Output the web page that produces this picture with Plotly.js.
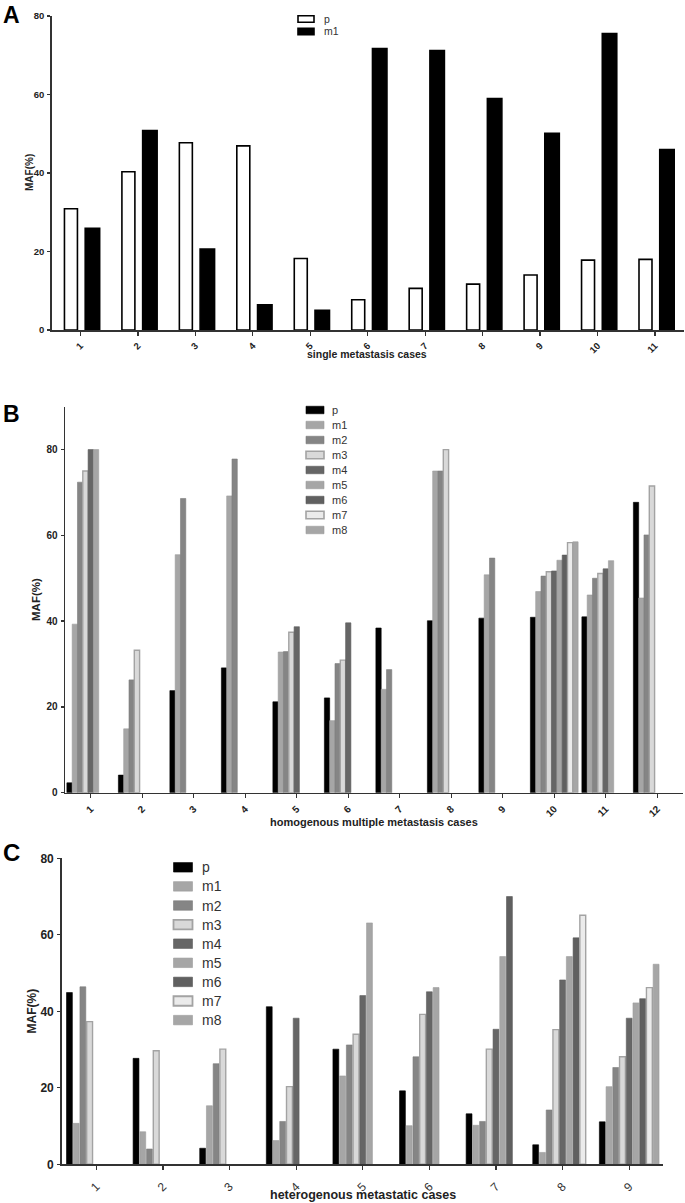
<!DOCTYPE html>
<html>
<head>
<meta charset="utf-8">
<script src="https://cdn.plot.ly/plotly-3.0.1.min.js"></script>
<style>html,body{margin:0;padding:0;background:#fff;}#chart{width:685px;height:1203px;}</style>
</head>
<body>
<div id="chart"></div>
<script>
// ---------------- DATA ----------------
const seriesA = ['p', 'm1'];
const casesA = ['1','2','3','4','5','6','7','8','9','10','11'];
const A_p  = [30.9, 40.3, 47.7, 46.9, 18.2, 7.7, 10.6, 11.7, 14.0, 17.8, 18.0];
const A_m1 = [25.9, 50.8, 20.6, 6.4, 5.0, 71.7, 71.2, 59.0, 50.1, 75.5, 46.0];

const seriesMulti = ['p','m1','m2','m3','m4','m5','m6','m7','m8'];

const casesB = ['1','2','3','4','5','6','7','8','9','10','11','12'];
const B_p  = [2.3, 4.1, 23.8, 29.1, 21.2, 22.1, 38.4, 40.1, 40.7, 40.9, 41.0, 67.7];
const B_m1 = [39.3, 14.9, 55.5, 69.2, 32.8, 16.8, 24.1, 75.0, 50.8, 46.9, 46.1, 45.4];
const B_m2 = [72.4, 26.3, 68.6, 77.8, 32.9, 30.1, 28.7, 75.0, 54.7, 50.5, 50.0, 60.1];
const B_m3 = [75.0, 33.2, null, null, 37.4, 30.9, null, 80.0, null, 51.5, 51.1, 71.5];
const B_m4 = [80.0, null, null, null, 38.7, 39.6, null, null, null, 51.7, 52.2, null];
const B_m5 = [80.0, null, null, null, null, null, null, null, null, 54.2, 54.1, null];
const B_m6 = [null, null, null, null, null, null, null, null, null, 55.4, null, null];
const B_m7 = [null, null, null, null, null, null, null, null, null, 58.3, null, null];
const B_m8 = [null, null, null, null, null, null, null, null, null, 58.5, null, null];

const casesC = ['1','2','3','4','5','6','7','8','9'];
const C_p  = [44.9, 27.7, 4.2, 41.2, 30.1, 19.2, 13.2, 5.1, 11.1];
const C_m1 = [10.7, 8.5, 15.3, 6.2, 23.1, 10.1, 10.2, 3.1, 20.3];
const C_m2 = [46.4, 4.0, 26.3, 11.2, 31.2, 28.1, 11.2, 14.2, 25.3];
const C_m3 = [37.3, 29.7, 30.1, 20.3, 34.0, 39.2, 30.1, 35.2, 28.1];
const C_m4 = [null, null, null, 38.2, 44.1, 45.1, 35.3, 48.2, 38.2];
const C_m5 = [null, null, null, null, 63.1, 46.2, 54.3, 54.3, 42.2];
const C_m6 = [null, null, null, null, null, null, 70.0, 59.2, 43.3];
const C_m7 = [null, null, null, null, null, null, null, 65.1, 46.2];
const C_m8 = [null, null, null, null, null, null, null, null, 52.3];

const yTicks = [0, 20, 40, 60, 80];
const titleA = 'single metastasis cases';
const titleB = 'homogenous multiple metastasis cases';
const titleC = 'heterogenous metastatic cases';
const yTitle = 'MAF(%)';

// ---------------- STYLE ----------------
const W = 685, H = 1203;
const px = x => x / W;
const py = y => 1 - y / H;
const FONT = 'Liberation Sans, Arial, Helvetica, sans-serif';
const AX = '#333333';

const fills = ['#000000','#a6a6a6','#858585','#d9d9d9','#666666','#a6a6a6','#606060','#ebebeb','#a6a6a6'];
const lines = ['#000000','#9c9c9c','#7c7c7c','#a3a3a3','#5e5e5e','#9c9c9c','#585858','#a3a3a3','#9c9c9c'];
const lineW = [0.6, 0.6, 0.6, 1.4, 0.6, 0.6, 0.6, 1.4, 0.6];

const dataB = [B_p, B_m1, B_m2, B_m3, B_m4, B_m5, B_m6, B_m7, B_m8];
const dataC = [C_p, C_m1, C_m2, C_m3, C_m4, C_m5, C_m6, C_m7, C_m8];

const traces = [];
// Panel A
traces.push({type:'bar', name: seriesA[0], x: casesA, y: A_p, xaxis:'x', yaxis:'y',
  offset: -0.278, width: 0.226, showlegend:false, hoverinfo:'skip',
  marker:{color:'#ffffff', line:{color:'#000000', width:1.6}}});
traces.push({type:'bar', name: seriesA[1], x: casesA, y: A_m1, xaxis:'x', yaxis:'y',
  offset: 0.083, width: 0.252, showlegend:false, hoverinfo:'skip',
  marker:{color:'#000000', line:{color:'#000000', width:1.6}}});
// Panel B
const sB = 0.103;
dataB.forEach((vals, k) => {
  traces.push({type:'bar', name: seriesMulti[k], x: casesB, y: vals, xaxis:'x2', yaxis:'y2',
    offset: (k - 4.5) * sB, width: sB, showlegend:false, hoverinfo:'skip',
    marker:{color: fills[k], line:{color: lines[k], width: lineW[k]}}});
});
// Panel C
const sC = 0.101, wC = 0.088;
dataC.forEach((vals, k) => {
  traces.push({type:'bar', name: seriesMulti[k], x: casesC, y: vals, xaxis:'x3', yaxis:'y3',
    offset: (k - 4.5) * sC + (sC - wC) / 2, width: wC, showlegend:false, hoverinfo:'skip',
    marker:{color: fills[k], line:{color: lines[k], width: lineW[k]}}});
});

function xAxis(domain, range, anchor, fontSize, bold, standoff) {
  return {domain: domain, range: range, type:'category', anchor: anchor,
    showline:true, linecolor:AX, linewidth:1.5, ticks:'outside', ticklen:4, tickwidth:1.3, tickcolor:AX,
    showgrid:false, zeroline:false, tickangle:-45, ticklabelstandoff: standoff,
    tickfont:{family: FONT, size: fontSize, color: bold ? '#222' : '#333', weight: bold ? 'bold' : 'normal'},
    fixedrange:true};
}
function yAxis(domain, range, anchor, fontSize) {
  return {domain: domain, range: range, anchor: anchor, tickvals: yTicks, ticktext: yTicks.map(String),
    showline:true, linecolor:AX, linewidth:1.5, ticks:'outside', ticklen:3, tickwidth:1.3, tickcolor:AX,
    showgrid:false, zeroline:false, ticklabelstandoff: 1,
    tickfont:{family: FONT, size: fontSize, color:'#222', weight:'bold'}, fixedrange:true};
}

const shapes = [];
const annotations = [];

function legend(names, x0, x1, yFirst, step, h, textX, fontSize, colorsFill, colorsLine, widths) {
  names.forEach((n, i) => {
    const yc = yFirst + i * step;
    shapes.push({type:'rect', xref:'paper', yref:'paper', x0: px(x0), x1: px(x1),
      y0: py(yc - h/2), y1: py(yc + h/2), fillcolor: colorsFill[i],
      line:{color: colorsLine[i], width: widths[i]}});
    annotations.push({xref:'paper', yref:'paper', x: px(textX), y: py(yc), text: n,
      showarrow:false, xanchor:'left', yanchor:'middle',
      font:{family: FONT, size: fontSize, color:'#333'}});
  });
}
legend(seriesA, 298, 314, 19, 12.5, 6.5, 322, 10.5, ['#ffffff','#000000'], ['#000000','#000000'], [1.6, 1.6]);
legend(seriesMulti, 306, 324, 410, 15, 7.5, 330, 11, fills, lines, lineW.map(w => w > 1 ? 1.6 : 0.6));
legend(seriesMulti, 173.5, 192.5, 867.3, 19.1, 9.5, 200, 14, fills, lines, lineW.map(w => w > 1 ? 1.8 : 0.6));

function txt(x, y, text, size, opts) {
  annotations.push(Object.assign({xref:'paper', yref:'paper', x: px(x), y: py(y), text: text,
    showarrow:false, xanchor:'center', yanchor:'middle',
    font:{family: FONT, size: size, color:'#222', weight:'bold'}}, opts || {}));
}
// panel letters
txt(1, 0, 'A', 22, {xanchor:'left', yanchor:'top', font:{family:'Liberation Sans Narrow, Liberation Sans, Arial', size:23, color:'#000', weight:'bold'}});
txt(1, 414, 'B', 23, {xanchor:'left', font:{family: FONT, size:23, color:'#000', weight:'bold'}});
txt(1, 852, 'C', 24, {xanchor:'left', font:{family: FONT, size:24, color:'#000', weight:'bold'}});
// axis titles
txt(367, 354, titleA, 10.5);
txt(374, 822, titleB, 11);
txt(363, 1195, titleC, 12.5);
txt(30, 173, yTitle, 10, {textangle:-90});
txt(36, 600, yTitle, 11.5, {textangle:-90});
txt(31.5, 1011, yTitle, 12, {textangle:-90});

const layout = {
  width: W, height: H, margin:{l:0, r:0, t:0, b:0, pad:0},
  paper_bgcolor:'#ffffff', plot_bgcolor:'#ffffff', barmode:'overlay', showlegend:false,
  font:{family: FONT},
  xaxis:  xAxis([px(51.7), px(683.7)], [-0.5, 10.5], 'y', 9.5, true, 1),
  yaxis:  yAxis([py(330), py(16)], [0, 80], 'x', 9.5),
  xaxis2: xAxis([px(65), px(683)], [-0.5, 11.5], 'y2', 10, true, 1),
  yaxis2: yAxis([py(792.7), py(406.7)], [0, 90], 'x2', 10),
  xaxis3: xAxis([px(61.7), px(662.5)], [-0.52, 8.5], 'y3', 12, false, 5),
  yaxis3: yAxis([py(1164.3), py(858.3)], [0, 80], 'x3', 12),
  shapes: shapes, annotations: annotations
};

Plotly.newPlot('chart', traces, layout, {displayModeBar:false, staticPlot:true});
</script>
</body>
</html>
